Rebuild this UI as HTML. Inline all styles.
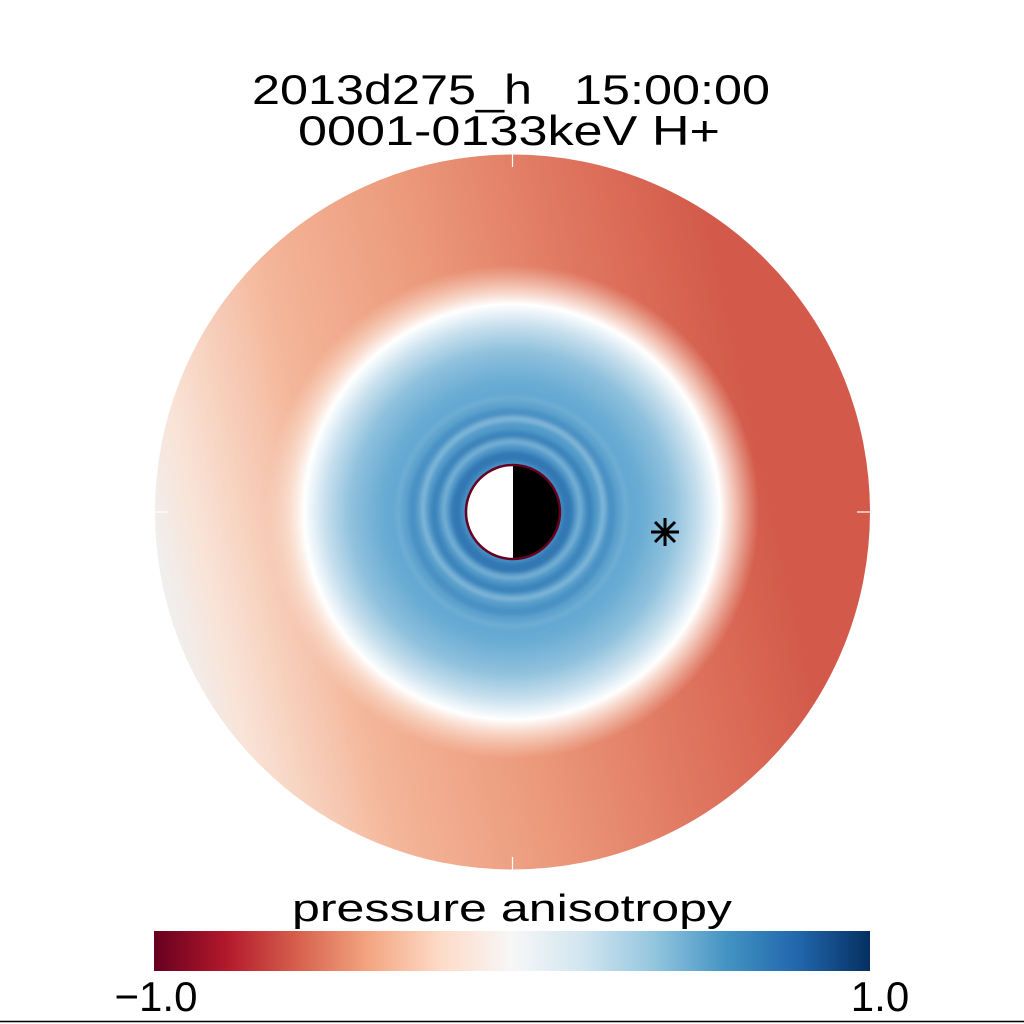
<!DOCTYPE html>
<html><head><meta charset="utf-8"><style>
html,body{margin:0;padding:0;background:#fff;}
svg{display:block;}
text{font-family:"Liberation Sans",sans-serif;fill:#000;white-space:pre;}
</style></head><body>
<svg width="1024" height="1024" viewBox="0 0 1024 1024" xmlns="http://www.w3.org/2000/svg">
<defs>
<linearGradient id="base" x1="155" y1="600" x2="870" y2="440" gradientUnits="userSpaceOnUse">
<stop offset="0" stop-color="#eef2f5"/>
<stop offset="0.08" stop-color="#f9e3d6"/>
<stop offset="0.25" stop-color="#f4b598"/>
<stop offset="0.45" stop-color="#ec9a7c"/>
<stop offset="0.65" stop-color="#e07862"/>
<stop offset="0.85" stop-color="#d35a4a"/>
<stop offset="1" stop-color="#d35a4a"/>
</linearGradient>
<radialGradient id="inner" cx="512" cy="512" r="260" gradientUnits="userSpaceOnUse">
<stop offset="0" stop-color="#3a85bf"/>
<stop offset="0.3" stop-color="#4f98c8"/>
<stop offset="0.5" stop-color="#6aacd3"/>
<stop offset="0.62" stop-color="#8fc1dd"/>
<stop offset="0.72" stop-color="#c8e0ee"/>
<stop offset="0.8" stop-color="#ffffff"/>
<stop offset="0.86" stop-color="#fbe6da" stop-opacity="0.7"/>
<stop offset="0.95" stop-color="#f8d8c6" stop-opacity="0"/>
<stop offset="1" stop-color="#f8d8c6" stop-opacity="0"/>
</radialGradient>
<linearGradient id="cb" x1="0" y1="0" x2="1" y2="0">
<stop offset="0" stop-color="#67001f"/>
<stop offset="0.1" stop-color="#b2182b"/>
<stop offset="0.2" stop-color="#d6604d"/>
<stop offset="0.3" stop-color="#f4a582"/>
<stop offset="0.4" stop-color="#fddbc7"/>
<stop offset="0.5" stop-color="#f7f7f7"/>
<stop offset="0.6" stop-color="#d1e5f0"/>
<stop offset="0.7" stop-color="#92c5de"/>
<stop offset="0.8" stop-color="#4393c3"/>
<stop offset="0.9" stop-color="#2166ac"/>
<stop offset="1" stop-color="#053061"/>
</linearGradient>
<filter id="bl"><feGaussianBlur stdDeviation="2"/></filter>
</defs>
<text x="511" y="104" font-size="42" text-anchor="middle" textLength="518" lengthAdjust="spacingAndGlyphs" xml:space="preserve">2013d275_h   15:00:00</text>
<text x="509" y="145" font-size="42" text-anchor="middle" textLength="422" lengthAdjust="spacingAndGlyphs">0001-0133keV H+</text>
<circle cx="512.5" cy="512" r="357.5" fill="url(#base)"/>
<circle cx="512.5" cy="512" r="260" fill="url(#inner)"/>
<g fill="none" filter="url(#bl)">
<circle cx="512" cy="512" r="56" stroke="#2a6fae" stroke-width="10" opacity="0.8"/>
<circle cx="512" cy="510" r="68" stroke="#a6cde3" stroke-width="4" opacity="0.6"/>
<circle cx="512" cy="512" r="78" stroke="#2f74b0" stroke-width="7" opacity="0.6"/>
<circle cx="513" cy="509" r="90" stroke="#b4d6e8" stroke-width="4" opacity="0.6"/>
<circle cx="512" cy="512" r="100" stroke="#3a82bb" stroke-width="8" opacity="0.5"/>
<circle cx="512" cy="512" r="114" stroke="#8cc0dc" stroke-width="4" opacity="0.4"/>
</g>
<circle cx="513" cy="512" r="47" fill="#fff"/>
<path d="M513,465 A47,47 0 0 1 513,559 Z" fill="#000"/>
<circle cx="513" cy="512" r="47" fill="none" stroke="#67001f" stroke-width="2.5"/>
<g stroke="#fff" stroke-width="1.2">
<line x1="512.5" y1="154" x2="512.5" y2="167"/>
<line x1="512.5" y1="857" x2="512.5" y2="870"/>
<line x1="155" y1="512" x2="168" y2="512"/>
<line x1="857" y1="512" x2="870" y2="512"/>
</g>
<g stroke="#000" stroke-width="3">
<line x1="651" y1="532" x2="679" y2="532"/>
<line x1="665" y1="518" x2="665" y2="546"/>
<line x1="655" y1="522" x2="675" y2="542"/>
<line x1="675" y1="522" x2="655" y2="542"/>
</g>
<text x="512" y="921" font-size="38" text-anchor="middle" textLength="440" lengthAdjust="spacingAndGlyphs">pressure anisotropy</text>
<rect x="154" y="931" width="716" height="40" fill="url(#cb)"/>
<text x="156" y="1011" font-size="42" text-anchor="middle">−1.0</text>
<text x="880" y="1011" font-size="42" text-anchor="middle">1.0</text>
<line x1="0" y1="1021.5" x2="1024" y2="1021.5" stroke="#000" stroke-width="1.5"/>
</svg>
</body></html>
